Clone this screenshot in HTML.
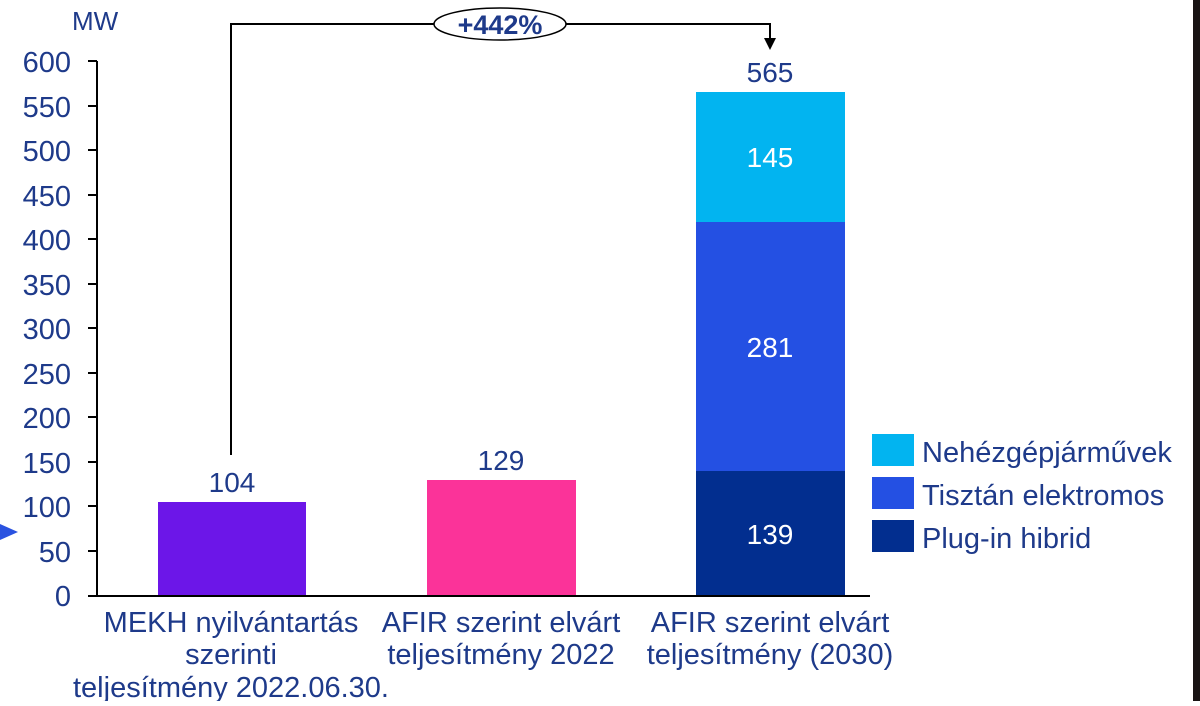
<!DOCTYPE html>
<html><head><meta charset="utf-8"><style>
body{margin:0;background:#fff;width:1200px;height:701px;overflow:hidden}
</style></head><body>
<svg width="1200" height="701" xmlns="http://www.w3.org/2000/svg" font-family="Liberation Sans, sans-serif">
<rect width="1200" height="701" fill="#fff"/>
<rect x="1193" y="0" width="7" height="701" fill="#1a1414"/>
<polygon points="0,524 18,532 0,540" fill="#2a52e0"/>
<g fill="#1e3a8a" font-size="29" text-anchor="end">
<text x="71" y="72">600</text><text x="71" y="117">550</text><text x="71" y="161">500</text>
<text x="71" y="206">450</text><text x="71" y="250">400</text><text x="71" y="295">350</text>
<text x="71" y="339">300</text><text x="71" y="384">250</text><text x="71" y="428">200</text>
<text x="71" y="473">150</text><text x="71" y="517">100</text><text x="71" y="562">50</text>
<text x="71" y="606">0</text>
</g>
<text x="72" y="30" fill="#1e3a8a" font-size="26">MW</text>
<g stroke="#000" stroke-width="2">
<line x1="97" y1="61" x2="97" y2="596"/>
<line x1="88" y1="596" x2="870" y2="596"/>
<line x1="88" y1="61" x2="97" y2="61"/><line x1="88" y1="106" x2="97" y2="106"/>
<line x1="88" y1="150" x2="97" y2="150"/><line x1="88" y1="195" x2="97" y2="195"/>
<line x1="88" y1="239" x2="97" y2="239"/><line x1="88" y1="284" x2="97" y2="284"/>
<line x1="88" y1="328" x2="97" y2="328"/><line x1="88" y1="373" x2="97" y2="373"/>
<line x1="88" y1="417" x2="97" y2="417"/><line x1="88" y1="462" x2="97" y2="462"/>
<line x1="88" y1="506" x2="97" y2="506"/><line x1="88" y1="551" x2="97" y2="551"/>
</g>
<rect x="158" y="502" width="148" height="93" fill="#6c16e8"/>
<rect x="427" y="480" width="149" height="115" fill="#fb3399"/>
<rect x="696" y="471" width="149" height="124" fill="#022e8f"/>
<rect x="696" y="222" width="149" height="249" fill="#2450e3"/>
<rect x="696" y="92" width="149" height="130" fill="#02b4f0"/>
<g font-size="28" text-anchor="middle" fill="#1e3a8a">
<text x="232" y="492">104</text><text x="501" y="470">129</text><text x="770" y="82">565</text>
</g>
<g font-size="28" text-anchor="middle" fill="#fff">
<text x="770" y="167">145</text><text x="770" y="357">281</text><text x="770" y="544">139</text>
</g>
<path d="M231,455 V24 H770 V42" fill="none" stroke="#000" stroke-width="2"/>
<polygon points="764,38 776,38 770,50" fill="#000"/>
<ellipse cx="500" cy="24" rx="66" ry="16" fill="#fff" stroke="#000" stroke-width="1.5"/>
<text x="500" y="34" font-size="27" font-weight="bold" text-anchor="middle" fill="#1e3a8a">+442%</text>
<rect x="872" y="434" width="42" height="32" fill="#02b4f0"/>
<rect x="872" y="477" width="42" height="32" fill="#2450e3"/>
<rect x="872" y="520" width="42" height="32" fill="#022e8f"/>
<g font-size="29" fill="#1e3a8a">
<text x="922" y="462">Nehézgépjárművek</text>
<text x="922" y="505">Tisztán elektromos</text>
<text x="922" y="548">Plug-in hibrid</text>
</g>
<g font-size="29" text-anchor="middle" fill="#1e3a8a">
<text x="231" y="632">MEKH nyilvántartás</text><text x="231" y="664">szerinti</text>
<text x="231" y="697">teljesítmény 2022.06.30.</text>
<text x="501" y="632">AFIR szerint elvárt</text><text x="501" y="664">teljesítmény 2022</text>
<text x="770" y="632">AFIR szerint elvárt</text><text x="770" y="664">teljesítmény (2030)</text>
</g>
</svg>
</body></html>
